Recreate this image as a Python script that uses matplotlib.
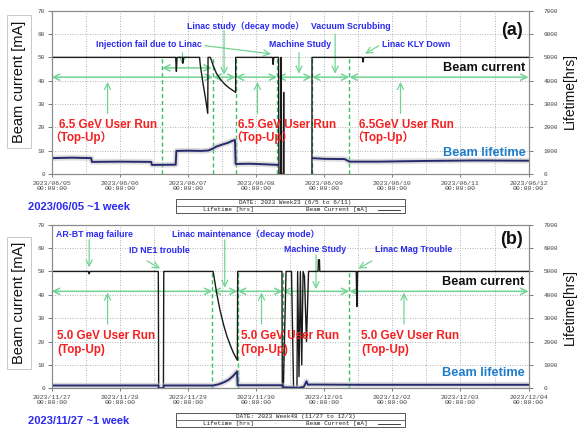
import numpy as np
import pandas as pd
import matplotlib
matplotlib.use("Agg")
import matplotlib.pyplot as plt
import matplotlib.dates as mdates
from matplotlib.patches import Rectangle
from matplotlib.lines import Line2D

plt.rcParams['font.family'] = ['Liberation Sans', 'Noto Sans CJK JP', 'DejaVu Sans']
MONO = 'Liberation Mono'

# ---------------- Week 23 : 2023/06/05 - 06/11 (6.5 GeV) ----------------
start_a = "2023-06-05"
current_a_days = [0, 1.82, 1.83, 1.84, 1.92, 1.925, 1.93, 2.17, 2.18, 2.22, 2.26, 2.29,
                  2.295, 2.33, 2.37, 2.42, 2.48, 2.54, 2.60, 2.65, 2.70, 2.701, 3.24,
                  3.25, 3.26, 3.33, 3.335, 3.36, 3.365, 3.37, 3.40, 3.405, 3.41, 3.415,
                  3.815, 3.82, 3.821, 4.56, 4.57, 4.58, 7.0]
current_a_mA = [50, 50, 44, 50, 50, 47.5, 50, 50, 47, 39, 32, 26,
                50, 50, 46.5, 43, 40.5, 38.5, 37, 36, 35, 50, 50,
                47, 50, 50, 0, 0, 50, 0, 0, 35, 0, np.nan,
                np.nan, 0, 50, 50, 48, 50, 50]
lifetime_a_days = [0, 0.3, 0.58, 0.59, 1.0, 1.46, 1.47, 1.82, 1.83, 2.0, 2.2, 2.30,
                   2.36, 2.42, 2.50, 2.58, 2.65, 2.69, 2.70, 2.9, 3.1, 3.32, 3.33,
                   3.82, 3.83, 4.0, 4.3, 4.37, 4.8, 5.5, 6.2, 7.0]
lifetime_a_hrs = [680, 700, 680, 520, 530, 520, 390, 400, 990, 1000, 990, 1010,
                  1080, 1180, 1260, 1330, 1420, 1460, 430, 440, 420, 390, np.nan,
                  np.nan, 680, 650, 640, 530, 530, 560, 580, 570]
phase_edges_a = [1.62, 2.37, 2.70, 3.31, 3.82, 4.37]
run_spans_a = [(0, 2.37), (2.37, 2.70), (2.70, 3.31), (3.31, 3.82), (3.82, 4.37), (4.37, 7.0)]
run_labels_a = ["6.5 GeV User Run", "6.5 GeV User Run", "6.5GeV User Run"]
topup_a = "（Top-Up）"
legend_a = "DATE: 2023 Week23 (6/5 to 6/11)"
period_a = "2023/06/05 ~1 week"

# ---------------- Week 48 : 2023/11/27 - 12/03 (5.0 GeV) ----------------
start_b = "2023-11-27"
current_b_days = [0, 0.54, 0.55, 0.56, 1.565, 1.57, 1.64, 1.645, 2.37, 2.42, 2.47,
                  2.52, 2.57, 2.62, 2.67, 2.725, 2.73, 3.38, 3.385, 3.40, 3.44, 3.52,
                  3.55, 3.60, 3.61, 3.63, 3.65, 3.67, 3.69, 3.71, 3.74, 3.77, 3.91,
                  3.915, 3.93, 3.935, 4.47, 4.48, 4.49, 7.0]
current_b_mA = [50, 50, 49, 50, 50, 0, 0, 50, 50, 41, 33.5,
                27.5, 22.5, 18.5, 15, 12, 50, 50, 0, 0, 50, 50,
                0, 0, 50, 5, 50, 10, 50, 48, 20, 50, 50,
                55, 55, 50, 50, 35, 50, 50]
lifetime_b_days = [0, 1.565, 1.57, 1.64, 1.645, 2.37, 2.45, 2.53, 2.60, 2.66, 2.72,
                   2.73, 3.38, 3.40, 3.55, 3.62, 3.70, 3.74, 3.76, 3.80, 4.5, 7.0]
lifetime_b_hrs = [120, 120, 0, 0, 120, 120, 170, 260, 370, 520, 720,
                  130, 130, 40, 30, 20, 60, 300, 150, 160, 150, 150]
phase_edges_b = [2.36, 2.73, 3.39, 4.37]
run_spans_b = [(0, 2.36), (2.36, 2.73), (2.73, 3.39), (3.39, 4.37), (4.37, 7.0)]
run_labels_b = ["5.0 GeV User Run", "5.0 GeV User Run", "5.0 GeV User Run"]
topup_b = "(Top-Up)"
legend_b = "DATE: 2023 Week48 (11/27 to 12/3)"
period_b = "2023/11/27 ~1 week"

GREEN = '#72d494'
DGREEN = '#3cbf62'
BLUE = '#2a2af0'
RED = '#f52020'
LTBLUE = '#1f7ccc'
NOTE = 6.3
RUN = 8.4
BIG = 9.2


def to_dt(start, days):
    return pd.Timestamp(start) + pd.to_timedelta(np.asarray(days, dtype=float), unit='D')


def setup_axes(rect, start):
    ax = fig.add_axes(rect)
    t0 = pd.Timestamp(start)
    ax.set_xlim(t0, t0 + pd.Timedelta(days=7))
    ax.set_ylim(0, 70)
    ax.set_yticks(range(0, 71, 10))
    ax.xaxis.set_major_locator(mdates.DayLocator())
    ax.xaxis.set_minor_locator(mdates.HourLocator(byhour=[12]))
    ax.xaxis.set_major_formatter(mdates.DateFormatter('%Y/%m/%d\n%H:%M:%S'))
    ax.grid(True, which='both', color='#9a9a9a', linestyle=(0, (1, 2)), linewidth=0.6)
    ax.tick_params(axis='y', direction='out', length=3, width=0.5, labelsize=4.3,
                   colors='#444444', labelfontfamily=MONO, pad=2)
    ax.tick_params(axis='x', which='major', direction='out', length=2, width=0.5,
                   labelsize=4.6, colors='#444444', labelfontfamily=MONO, pad=3)
    ax.tick_params(axis='x', which='minor', length=0)
    for lab in ax.get_xticklabels():
        lab.set_linespacing(1.0)
    for s in ax.spines.values():
        s.set_color('#8a8a8a')
        s.set_linewidth(0.8)
    ax2 = ax.twinx()
    ax2.set_ylim(0, 7000)
    ax2.set_yticks(range(0, 7001, 1000))
    ax2.tick_params(axis='y', direction='out', length=3, width=0.5, labelsize=4.3,
                    colors='#444444', labelfontfamily=MONO, pad=8)
    for s in ax2.spines.values():
        s.set_color('#8a8a8a')
        s.set_linewidth(0.8)
    return ax, ax2


def harrow(ax, start, x0, x1, y):
    ax.annotate('', xy=(to_dt(start, [x1])[0], y), xytext=(to_dt(start, [x0])[0], y),
                arrowprops=dict(arrowstyle='<->,head_length=0.45,head_width=0.22',
                                color=GREEN, lw=1.1, shrinkA=0, shrinkB=0))


def varrow(ax, start, x, y0, y1, lw=0.9):
    ax.annotate('', xy=(to_dt(start, [x])[0], y1), xytext=(to_dt(start, [x])[0], y0),
                arrowprops=dict(arrowstyle='->,head_length=0.45,head_width=0.22',
                                color=GREEN, lw=lw, shrinkA=0, shrinkB=0))


def darrow(ax, start, p0, p1):
    ax.annotate('', xy=(to_dt(start, [p1[0]])[0], p1[1]),
                xytext=(to_dt(start, [p0[0]])[0], p0[1]),
                arrowprops=dict(arrowstyle='->,head_length=0.45,head_width=0.22',
                                color=GREEN, lw=0.9, shrinkA=0, shrinkB=0))


def label(ax, start, x, y, s, color=BLUE, size=NOTE, ha='left'):
    ax.text(to_dt(start, [x])[0], y, s, color=color, fontsize=size, fontweight='bold',
            ha=ha, va='center', zorder=6)


def draw_panel(ax, ax2, start, cur_d, cur_v, lt_d, lt_v, edges, spans):
    # lifetime on right scale
    lt_t = to_dt(start, lt_d)
    ax2.plot(lt_t, lt_v, color='#bcbcbc', lw=4.0, alpha=0.5, solid_capstyle='butt')
    ax2.plot(lt_t, lt_v, color='#262a6e', lw=1.4)
    # beam current on left scale
    ax.plot(to_dt(start, cur_d), cur_v, color='#1a1a1a', lw=1.0, zorder=4)
    # run boundaries
    for e in edges:
        ax.plot(to_dt(start, [e, e]), [0, 50], color=DGREEN, lw=1.0,
                linestyle=(0, (3, 2)), zorder=3)
    for x0, x1 in spans:
        harrow(ax, start, x0, x1, 41.5)


def legend_box(y_top, y_bot, text):
    x0, x1 = 0.3045, 0.7014
    ymid = (y_top + y_bot) / 2
    fig.add_artist(Rectangle((x0, y_bot), x1 - x0, y_top - y_bot, transform=fig.transFigure,
                             fill=False, edgecolor='#555555', lw=0.7))
    fig.add_artist(Line2D([x0, x1], [ymid, ymid], transform=fig.transFigure,
                          color='#555555', lw=0.6))
    r1 = (y_top + ymid) / 2
    r2 = (ymid + y_bot) / 2
    fig.text(0.512, r1, text, fontsize=4.3, family=MONO, ha='center', va='center', color='#222222')
    fig.text(0.395, r2, "Lifetime [hrs]", fontsize=4.3, family=MONO, ha='center', va='center', color='#222222')
    fig.text(0.4766, r2, "·", fontsize=4.3, family=MONO, ha='center', va='center', color='#999999')
    fig.text(0.5835, r2, "Beam Current [mA]", fontsize=4.3, family=MONO, ha='center', va='center', color='#222222')
    fig.add_artist(Line2D([0.6557, 0.6932], [r2, r2], transform=fig.transFigure,
                          color='#222222', lw=0.6))


fig = plt.figure(figsize=(5.77, 4.29), dpi=100)

# ---------------- panel (a) ----------------
axa, axa2 = setup_axes([0.0896, 0.5944, 0.8265, 0.3806], start_a)
draw_panel(axa, axa2, start_a, current_a_days, current_a_mA, lifetime_a_days,
           lifetime_a_hrs, phase_edges_a, run_spans_a)
harrow(axa, start_a, 1.62, 2.35, 45.5)
varrow(axa, start_a, 1.92, 52, 47)
varrow(axa, start_a, 2.53, 61.5, 42.5)
varrow(axa, start_a, 3.63, 52, 43)
varrow(axa, start_a, 4.16, 60, 43)
darrow(axa, start_a, (2.25, 55.0), (3.22, 51.5))
darrow(axa, start_a, (4.80, 55.0), (4.60, 51.5))
for x in (0.82, 3.02, 5.12):
    varrow(axa, start_a, x, 26, 39.5)
label(axa, start_a, 0.65, 55.7, "Injection fail due to Linac")
label(axa, start_a, 1.99, 63.4, "Linac study（decay mode）")
label(axa, start_a, 3.195, 55.7, "Machine Study")
label(axa, start_a, 3.80, 63.2, "Vacuum Scrubbing")
label(axa, start_a, 4.85, 55.7, "Linac KLY Down")
for x, s in zip((0.11, 2.74, 4.51), run_labels_a):
    label(axa, start_a, x, 21.0, s, color=RED, size=RUN)
for x in (-0.04, 2.62, 4.39):
    label(axa, start_a, x, 15.7, topup_a, color=RED, size=RUN)
label(axa, start_a, 6.95, 45.6, "Beam current", color='#111111', size=BIG, ha='right')
label(axa, start_a, 6.96, 9.2, "Beam lifetime", color=LTBLUE, size=BIG, ha='right')
label(axa, start_a, 6.91, 61.7, "(a)", color='#111111', size=13, ha='right')

# ---------------- panel (b) ----------------
axb, axb2 = setup_axes([0.0896, 0.0949, 0.8265, 0.3813], start_b)
draw_panel(axb, axb2, start_b, current_b_days, current_b_mA, lifetime_b_days,
           lifetime_b_hrs, phase_edges_b, run_spans_b)
varrow(axb, start_b, 0.55, 63.5, 51.7)
darrow(axb, start_b, (1.40, 54.5), (1.59, 51.2))
varrow(axb, start_b, 2.54, 63.5, 43)
varrow(axb, start_b, 3.88, 57, 42.4)
darrow(axb, start_b, (4.70, 54.5), (4.50, 51.2))
for x in (0.82, 3.08, 5.17):
    varrow(axb, start_b, x, 27.5, 41)
label(axb, start_b, 0.063, 66.0, "AR-BT mag failure")
label(axb, start_b, 1.14, 58.9, "ID NE1 trouble")
label(axb, start_b, 1.77, 66.0, "Linac maintenance（decay mode）")
label(axb, start_b, 3.41, 59.2, "Machine Study")
label(axb, start_b, 4.75, 59.2, "Linac Mag Trouble")
for x, s in zip((0.08, 2.775, 4.54), run_labels_b):
    label(axb, start_b, x, 22.5, s, color=RED, size=RUN)
for x in (0.08, 2.775, 4.54):
    label(axb, start_b, x, 16.4, topup_b, color=RED, size=RUN)
label(axb, start_b, 6.94, 45.6, "Beam current", color='#111111', size=BIG, ha='right')
label(axb, start_b, 6.95, 6.4, "Beam lifetime", color=LTBLUE, size=BIG, ha='right')
label(axb, start_b, 6.91, 63.5, "(b)", color='#111111', size=13, ha='right')

# axis titles
for yc in (0.81, 0.2937):
    fig.text(0.033, yc, "Beam current [mA]", rotation=90, fontsize=10.5, ha='center',
             va='center', color='#111111',
             bbox=dict(boxstyle='square,pad=0.35', fc='white', ec='#c8c8c8', lw=0.7))
for yc in (0.787, 0.2855):
    fig.text(0.987, yc, "Lifetime[hrs]", rotation=90, fontsize=10, ha='center',
             va='center', color='#111111')

legend_box(0.5361, 0.5028, legend_a)
legend_box(0.0373, 0.0040, legend_b)
fig.text(0.049, 0.5168, period_a, color=BLUE, fontsize=8, fontweight='bold', va='center')
fig.text(0.049, 0.0193, period_b, color=BLUE, fontsize=8, fontweight='bold', va='center')

fig.savefig("out.png", dpi=100)
